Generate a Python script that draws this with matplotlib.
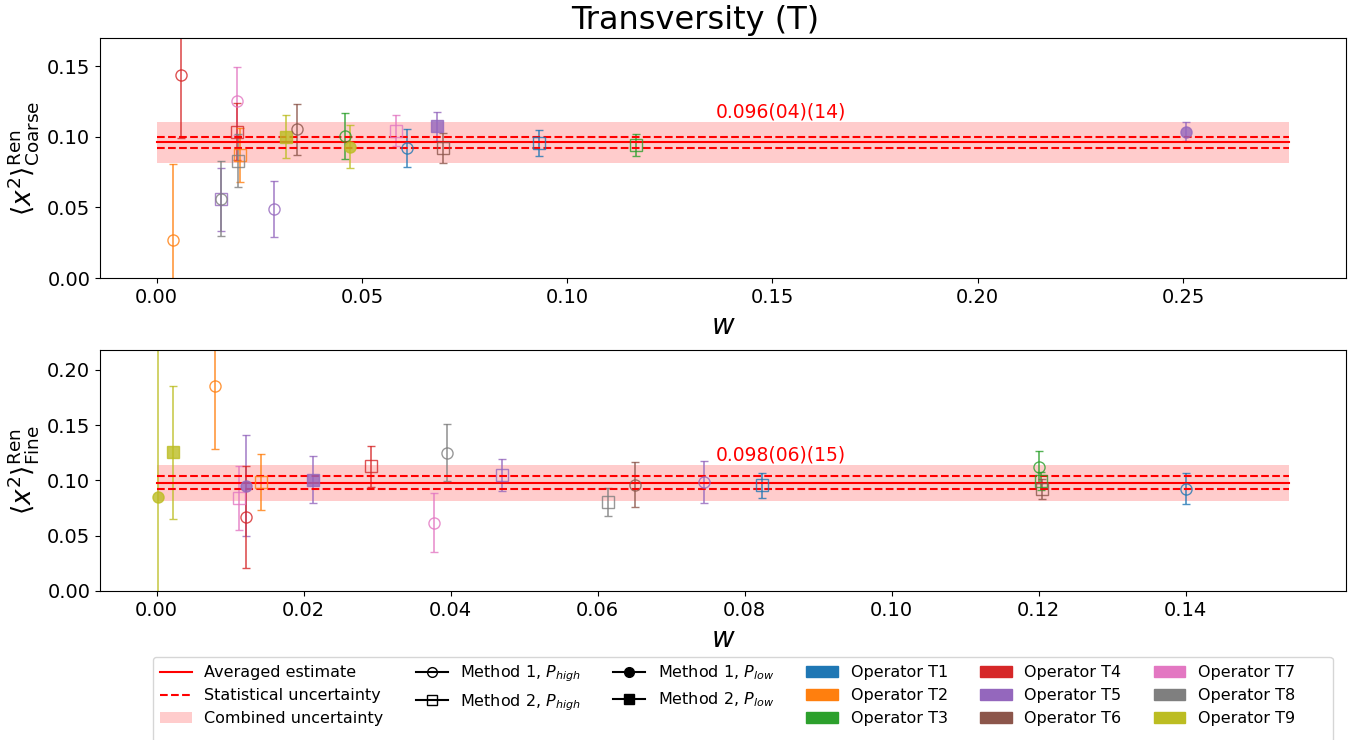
import matplotlib.pyplot as plt
import numpy as np
from matplotlib.lines import Line2D
from matplotlib.patches import Patch

# Operator colours T1..T9
op_colors = ['C0', 'C1', 'C2', 'C3', 'C4', 'C5', 'C6', 'C7', 'C8']

# Coarse ensemble
coarse_op = [4, 2, 7, 4, 2, 8, 5, 8, 5, 9, 6, 3, 9, 7, 1, 5, 6, 1, 3, 5]
coarse_method = [1, 1, 1, 2, 2, 2, 2, 1, 1, 2, 1, 1, 1, 2, 1, 2, 2, 2, 2, 1]
coarse_p = ['high', 'high', 'high', 'high', 'high', 'high', 'high', 'high', 'high', 'low',
            'high', 'high', 'low', 'high', 'high', 'low', 'high', 'high', 'high', 'low']
coarse_w = [0.0060, 0.0040, 0.0197, 0.0195, 0.0202, 0.0198, 0.0156, 0.0157, 0.0285, 0.0316,
            0.0341, 0.0459, 0.0470, 0.0584, 0.0611, 0.0682, 0.0697, 0.0931, 0.1168, 0.2508]
coarse_val = [0.1434, 0.0268, 0.1251, 0.1035, 0.0871, 0.0831, 0.0556, 0.0561, 0.0488, 0.1000,
              0.1052, 0.1005, 0.0930, 0.1042, 0.0918, 0.1075, 0.0920, 0.0956, 0.0942, 0.1035]
coarse_err = [0.044, 0.054, 0.024, 0.020, 0.019, 0.019, 0.022, 0.0265, 0.0197, 0.015,
              0.018, 0.016, 0.0155, 0.011, 0.0134, 0.0103, 0.0103, 0.009, 0.0077, 0.0066]
coarse_avg, coarse_stat, coarse_sys = 0.096, 0.004, 0.014
coarse_xticks = [0.00, 0.05, 0.10, 0.15, 0.20, 0.25]

# Fine ensemble
fine_op = [9, 9, 2, 7, 5, 4, 2, 5, 4, 7, 8, 5, 8, 6, 5, 1, 3, 3, 6, 1]
fine_method = [1, 2, 1, 2, 1, 1, 2, 2, 2, 1, 1, 2, 2, 1, 1, 2, 1, 2, 2, 1]
fine_p = ['low', 'low', 'high', 'high', 'low', 'high', 'high', 'low', 'high', 'high',
          'high', 'high', 'high', 'high', 'high', 'high', 'high', 'high', 'high', 'high']
fine_w = [0.0002, 0.0023, 0.0079, 0.0112, 0.0122, 0.0122, 0.0142, 0.0213, 0.0291, 0.0378,
          0.0395, 0.0470, 0.0614, 0.0651, 0.0745, 0.0823, 0.1200, 0.1203, 0.1204, 0.1400]
fine_val = [0.0848, 0.1255, 0.1852, 0.0839, 0.0953, 0.0670, 0.0986, 0.1008, 0.1128, 0.0618,
            0.1252, 0.1050, 0.0808, 0.0962, 0.0986, 0.0956, 0.1125, 0.0995, 0.0920, 0.0926]
fine_err = [0.16, 0.060, 0.0565, 0.029, 0.046, 0.046, 0.0257, 0.021, 0.0187, 0.0266,
            0.026, 0.0147, 0.0127, 0.0205, 0.019, 0.0115, 0.0145, 0.0085, 0.009, 0.014]
fine_avg, fine_stat, fine_sys = 0.098, 0.006, 0.015
fine_xticks = [0.00, 0.02, 0.04, 0.06, 0.08, 0.10, 0.12, 0.14]


def plot_panel(ax, ops, methods, ps, ws, vals, errs, avg, stat, sys, ylabel, ylim, xticks):
    for op, m, p, w, v, e in zip(ops, methods, ps, ws, vals, errs):
        c = op_colors[op - 1]
        marker = 'o' if m == 1 else 's'
        face = 'none' if p == 'high' else c
        ax.errorbar(w, v, yerr=e, fmt=marker, color=c, mfc=face, mec=c,
                    ms=8, capsize=3, elinewidth=1.2, alpha=0.8)

    # averaged estimate with statistical and combined uncertainty
    xmax = 1.1 * max(ws)
    comb = (stat ** 2 + sys ** 2) ** 0.5
    ax.fill_between([0, xmax], avg - comb, avg + comb, color='red', alpha=0.2, lw=0)
    ax.plot([0, xmax], [avg, avg], color='red', lw=1.5)
    ax.plot([0, xmax], [avg - stat, avg - stat], color='red', ls='--', lw=1.5)
    ax.plot([0, xmax], [avg + stat, avg + stat], color='red', ls='--', lw=1.5)
    ax.text(0.494 * xmax, avg + comb, f'{avg:.3f}({stat * 1000:02.0f})({sys * 1000:02.0f})',
            color='red', fontsize=13.5, ha='left', va='bottom')

    ax.set_ylim(*ylim)
    ax.set_xticks(xticks)
    ax.set_xlabel('$w$', fontsize=20)
    ax.set_ylabel(ylabel, fontsize=19)
    ax.tick_params(labelsize=14)


fig = plt.figure(figsize=(13.64, 7.4), dpi=100)
ax1 = fig.add_axes([0.0733, 0.6243, 0.9135, 0.3247])
ax2 = fig.add_axes([0.0733, 0.2014, 0.9135, 0.3256])

plot_panel(ax1, coarse_op, coarse_method, coarse_p, coarse_w, coarse_val, coarse_err,
           coarse_avg, coarse_stat, coarse_sys,
           r'$\langle x^2 \rangle^{\mathrm{Ren}}_{\mathrm{Coarse}}$', (0, 0.17), coarse_xticks)
plot_panel(ax2, fine_op, fine_method, fine_p, fine_w, fine_val, fine_err,
           fine_avg, fine_stat, fine_sys,
           r'$\langle x^2 \rangle^{\mathrm{Ren}}_{\mathrm{Fine}}$', (0, 0.218), fine_xticks)
ax1.set_xlim(right=0.2897)
ax2.set_xlim(right=0.1618)
ax1.set_title('Transversity (T)', fontsize=23, x=0.478)

blank = Line2D([], [], linestyle='none')
handles = [
    Line2D([], [], color='red', lw=1.5),
    Line2D([], [], color='red', ls='--', lw=1.5),
    Patch(color='red', alpha=0.2, lw=0),
    Line2D([], [], color='k', marker='o', mfc='none', ms=7),
    Line2D([], [], color='k', marker='s', mfc='none', ms=7),
    blank,
    Line2D([], [], color='k', marker='o', ms=7),
    Line2D([], [], color='k', marker='s', ms=7),
    blank,
] + [Patch(color=c) for c in op_colors]
labels = ['Averaged estimate', 'Statistical uncertainty', 'Combined uncertainty',
          r'Method 1, $P_{high}$', r'Method 2, $P_{high}$', '',
          r'Method 1, $P_{low}$', r'Method 2, $P_{low}$', ''] + \
         [f'Operator T{i}' for i in range(1, 7)] + \
         [f'Operator T{i}      ' for i in range(7, 10)]

fig.legend(handles, labels, loc='lower center', bbox_to_anchor=(0.5447, -0.005),
           ncol=6, fontsize=11.5, labelspacing=0.5, borderaxespad=0.1)

fig.savefig('out.png', dpi=100)
